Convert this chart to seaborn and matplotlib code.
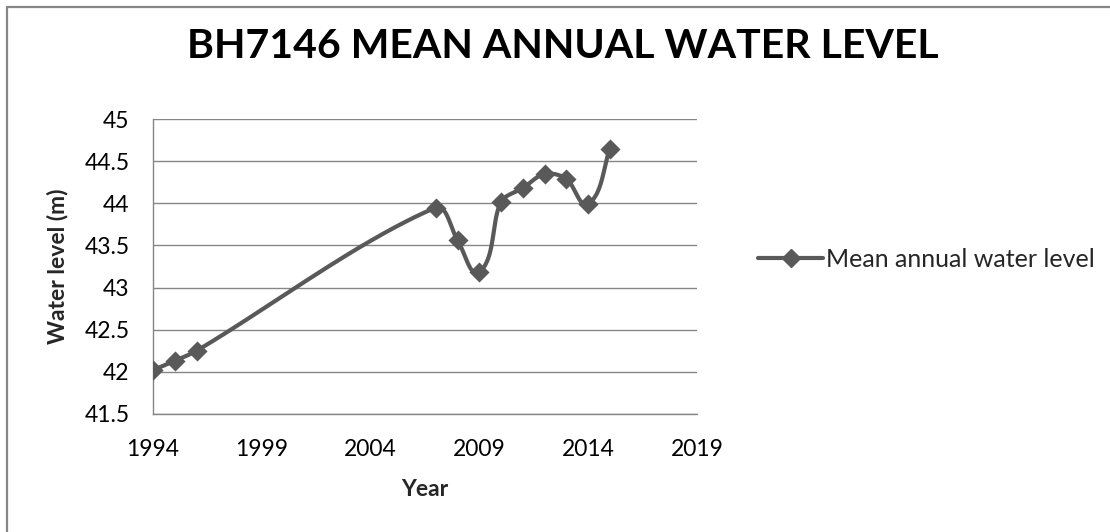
import numpy as np
import pandas as pd
import matplotlib
matplotlib.use("Agg")
import matplotlib.pyplot as plt
from matplotlib.lines import Line2D
import seaborn as sns

# Mean annual water level at borehole BH7146
years = [1994, 1995, 1996, 2007, 2008, 2009, 2010, 2011, 2012, 2013, 2014, 2015]
levels = [42.02, 42.13, 42.25, 43.95, 43.56, 43.18, 44.02, 44.18, 44.35, 44.29, 43.99, 44.65]
series_name = "Mean annual water level"

title_text = "BH7146 MEAN ANNUAL WATER LEVEL"
x_label = "Year"
y_label = "Water level (m)"
x_ticks = [1994, 1999, 2004, 2009, 2014, 2019]
y_ticks = [41.5, 42, 42.5, 43, 43.5, 44, 44.5, 45]

LINE = "#595959"
AXIS = "#868686"
FONT = ["Lato", "DejaVu Sans"]

FIG_W, FIG_H = 1110, 532
AX_L, AX_R, AX_T, AX_B = 153, 697, 119, 414
XLIM = (x_ticks[0], x_ticks[-1])
YLIM = (y_ticks[0], y_ticks[-1])


def smooth_curve(x, y, aspect, k=0.3, steps=60):
    """Bezier smoothing through every point; tangents follow the neighbouring
    points and the handles scale with each segment's on-screen length."""
    pts = np.column_stack([x, np.asarray(y) * aspect]).astype(float)
    n = len(pts)
    tang = []
    for i in range(n):
        a = pts[max(i - 1, 0)]
        b = pts[min(i + 1, n - 1)]
        d = b - a
        tang.append(d / np.hypot(*d))
    out = [pts[0]]
    t = np.linspace(0, 1, steps)[1:]
    for i in range(n - 1):
        p1, p2 = pts[i], pts[i + 1]
        L = np.hypot(*(p2 - p1))
        c1 = p1 + tang[i] * L * k
        c2 = p2 - tang[i + 1] * L * k
        seg = ((1 - t) ** 3)[:, None] * p1 + (3 * (1 - t) ** 2 * t)[:, None] * c1 \
            + (3 * (1 - t) * t ** 2)[:, None] * c2 + (t ** 3)[:, None] * p2
        out.extend(seg)
    out = np.array(out)
    return out[:, 0], out[:, 1] / aspect


sns.set_theme(style="white")
plt.rcParams["font.family"] = FONT

df = pd.DataFrame({"year": years, "level": levels})

# screen-space aspect: pixels per level unit relative to pixels per year
px_per_year = (AX_R - AX_L) / (XLIM[1] - XLIM[0])
px_per_unit = (AX_B - AX_T) / (YLIM[1] - YLIM[0])
sx, sy = smooth_curve(df["year"].values, df["level"].values, px_per_unit / px_per_year)
curve = pd.DataFrame({"year": sx, "level": sy})

fig = plt.figure(figsize=(FIG_W / 100, FIG_H / 100), dpi=100)
ax = fig.add_axes([AX_L / FIG_W, 1 - AX_B / FIG_H,
                   (AX_R - AX_L) / FIG_W, (AX_B - AX_T) / FIG_H])

sns.lineplot(data=curve, x="year", y="level", sort=False, estimator=None,
             color=LINE, linewidth=3.0, ax=ax, legend=False)
sns.scatterplot(data=df, x="year", y="level", marker="D", s=105, color=LINE,
                edgecolor=LINE, linewidth=0, ax=ax, legend=False, zorder=3)

ax.set_xlim(*XLIM)
ax.set_ylim(*YLIM)
ax.set_xticks(x_ticks)
ax.set_yticks(y_ticks)
ax.set_yticklabels([f"{v:g}" for v in y_ticks])
ax.yaxis.grid(True, color=AXIS, linewidth=1.0)
ax.xaxis.grid(False)
for side in ["top", "right"]:
    ax.spines[side].set_visible(False)
for side in ["left", "bottom"]:
    ax.spines[side].set_color(AXIS)
    ax.spines[side].set_linewidth(1.0)
ax.tick_params(axis="both", direction="out", length=6, width=1.0, color=AXIS,
               labelsize=16.5, labelcolor="black")
ax.tick_params(axis="y", pad=11)
ax.tick_params(axis="x", pad=12)

ax.set_xlabel(x_label, fontsize=16.5, fontweight="bold")
ax.set_ylabel(y_label, fontsize=16.5, fontweight="bold")
ax.xaxis.set_label_coords(0.5, (AX_B - 490) / (AX_B - AX_T))
ax.xaxis.label.set_va("center")
ax.yaxis.set_label_coords((58 - AX_L) / (AX_R - AX_L), 0.5)
ax.yaxis.label.set_va("center")

fig.text(563 / FIG_W, 1 - 47 / FIG_H, title_text, ha="center", va="center",
         fontsize=29.5, fontweight="bold", color="black")

handle = Line2D([], [], color=LINE, linewidth=3.0, marker="D", markersize=9.5)
fig.legend([handle], [series_name], loc="center left",
           bbox_to_anchor=(758 / FIG_W, 1 - 259 / FIG_H), frameon=False,
           fontsize=18, handlelength=2.6, handletextpad=0.1, borderaxespad=0,
           borderpad=0)

# chart-area frame along the top and left edges
fig.add_artist(Line2D([7 / FIG_W, 7 / FIG_W], [0, 1 - 7 / FIG_H], transform=fig.transFigure,
                      color=AXIS, linewidth=1.6))
fig.add_artist(Line2D([7 / FIG_W, 1], [1 - 7 / FIG_H, 1 - 7 / FIG_H], transform=fig.transFigure,
                      color=AXIS, linewidth=1.6))

fig.savefig("out.png", dpi=100, facecolor="white")
